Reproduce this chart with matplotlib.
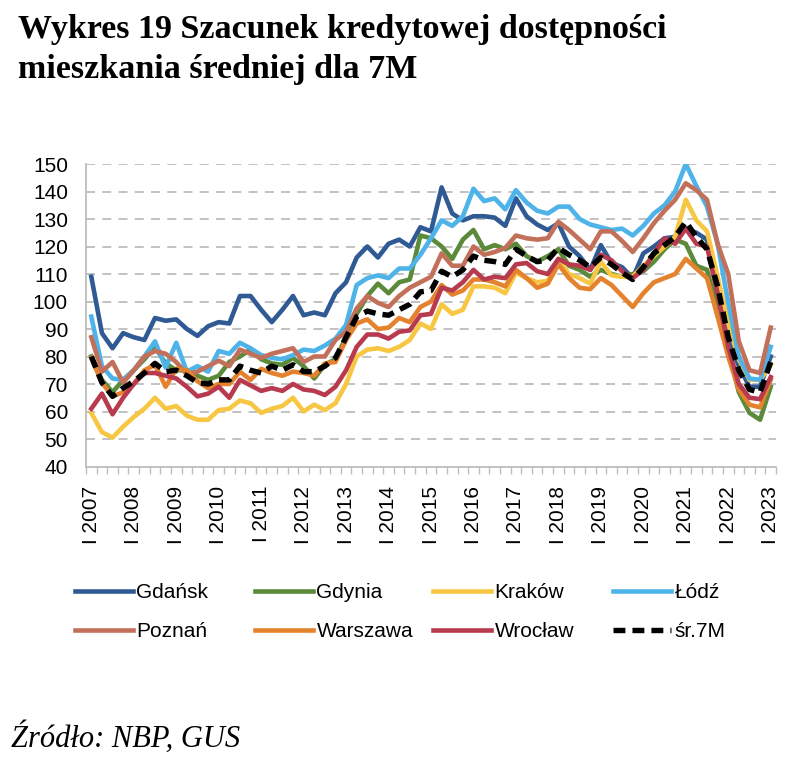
import numpy as np
import matplotlib
matplotlib.use("Agg")
import matplotlib.pyplot as plt

# quarterly data, I 2007 .. I 2023
years = list(range(2007, 2024))
n_q = 65

gdansk = [109, 88.5, 83, 88.5, 87, 86, 94, 93, 93.5, 90, 87.5, 91, 92.5, 92, 102, 102,
          97, 92.5, 97, 102, 95, 96, 95, 103, 107, 116, 120, 116, 121, 122.5, 120, 127,
          125.5, 141.5, 132, 129.5, 131, 131, 130.5, 127.5, 137.5, 131, 128, 126, 128.5, 120,
          116.5, 111.5, 120.5, 114, 112.5, 108.5, 117.5, 120, 123, 123.5, 126.5, 125, 122.5,
          102, 87, 76.5, 69, 69, 80]
gdynia = [80, 71.5, 67, 71.5, 75, 79, 83.5, 77.5, 75, 75, 73, 71.5, 73, 78, 80, 82.5,
          79, 77.5, 77, 79.5, 76.5, 72, 77, 79, 87, 95.5, 102, 106.5, 103, 107, 108, 124,
          123, 120, 115.5, 122.5, 126, 119, 120.5, 119, 121, 116.5, 114.5, 116.5, 119, 113,
          111.5, 109, 111.5, 110, 109, 110, 111, 114.5, 119, 122.5, 121, 113, 111.5,
          97, 82.5, 67, 59.5, 57, 69]
krakow = [59.5, 52.5, 50.5, 54.5, 58, 61, 65, 61, 62, 58.5, 57, 57, 60.5, 61, 64, 63,
          59.5, 61, 62, 65, 60, 62.5, 60.5, 63, 70, 80, 82.5, 83, 82, 83.5, 86, 92,
          90, 99, 95.5, 97, 105.5, 105.5, 105, 103, 110.5, 108.5, 107, 107.5, 115.5, 110,
          108.5, 106.5, 114.5, 109.5, 109, 109, 113, 116.5, 120, 123.5, 137, 129.5, 125.5,
          109, 92, 79, 71.5, 71.5, 77]
lodz = [94.5, 76.5, 72, 71.5, 75, 80, 85.5, 76, 85, 74.5, 76.5, 74.5, 82, 81, 85, 83,
        80.5, 79.5, 79, 80.5, 82.5, 82, 84, 86.5, 91.5, 106, 108.5, 109.5, 108.5, 112, 112, 117,
        123, 129.5, 127.5, 131, 141, 136.5, 137.5, 133.5, 140.5, 136, 133, 132, 134.5, 134.5,
        130, 128, 127, 126, 126.5, 124, 127.5, 132, 135, 140, 150, 142, 134.5,
        121, 99.5, 80, 72, 71.5, 83.5]
poznan = [87, 74.5, 78, 70.5, 75, 80, 82, 81, 78, 73.5, 74.5, 76.5, 78.5, 76.5, 82.5, 81,
          79.5, 81, 82, 83, 78, 80, 80, 86, 89, 97.5, 102, 99.5, 98, 102, 105, 107,
          109, 117.5, 113, 113, 120, 117, 118, 119.5, 124, 123, 122.5, 123, 129, 126,
          122.5, 119, 125.5, 125.5, 122, 118, 123, 128.5, 133, 137, 143, 140.5, 137,
          121, 110, 85.5, 75, 74, 90.5]
warszawa = [79.5, 70.5, 65.5, 67, 70, 75, 77, 69, 75.5, 75, 71, 68.5, 70, 70, 74.5, 71.5,
            75.5, 74, 73, 74.5, 74, 73, 77.5, 78, 86, 92, 93.5, 90, 90.5, 94, 92.5, 98,
            100, 106, 102.5, 104, 108, 108, 107, 105.5, 111.5, 108.5, 105, 106.5, 113.5, 108.5,
            105, 104.5, 108.5, 106, 102, 98, 103, 107, 108.5, 110, 115.5, 112, 108.5,
            94.5, 80, 68, 62.5, 61.5, 71.5]
wroclaw = [61, 66.5, 59, 65, 70, 74, 74, 73, 72, 69, 65.5, 66.5, 69, 65, 71.5, 69.5,
           67.5, 68.5, 67.5, 70, 68, 67.5, 66, 69, 75, 83.5, 88, 88, 86.5, 89, 89.5, 95,
           95.5, 105, 104, 107, 111.5, 108, 109, 108.5, 113.5, 114, 111, 110, 115.5, 113.5,
           113, 111.5, 117, 115, 111, 108.5, 111.5, 117.5, 123, 121, 126.5, 121, 120,
           103, 83.5, 70, 65, 64.5, 72.5]
avg7m = [80, 70.5, 65.5, 68.5, 71, 74, 77.5, 74.5, 75, 73, 70.5, 70, 71.5, 71.5, 76.5, 75,
         74, 76.5, 75, 77, 74.5, 74.5, 76.5, 79.5, 87, 94.5, 96.5, 95.5, 95, 97, 99, 103.5,
         104, 111, 109, 111.5, 116.5, 115, 114.5, 113.5, 119, 116.5, 114.5, 115, 119.5, 117,
         115, 112.5, 116, 113.5, 110.5, 108, 112.5, 117.5, 120.5, 123.5, 129, 123.5, 119,
         105.5, 87, 75, 68, 67, 78]

names = ["Gdańsk", "Gdynia", "Kraków", "Łódź", "Poznań", "Warszawa", "Wrocław"]
series = [gdansk, gdynia, krakow, lodz, poznan, warszawa, wroclaw]
colors = ["#2F5A94", "#5A8A3A", "#F7C744", "#4DB3E8", "#C2705A", "#E5822E", "#B83A4E"]

fig = plt.figure(figsize=(8, 7.65), dpi=100)
ax = fig.add_axes([86 / 800, 1 - 466.5 / 765, 690 / 800, 302.5 / 765])

x = np.arange(n_q)
handles = []
for name, vals, c in zip(names, series, colors):
    h, = ax.plot(x, vals, color=c, lw=3.3, solid_joinstyle="round", label=name)
    handles.append(h)
h, = ax.plot(x, avg7m, color="black", lw=3.9, ls=(0, (2.2, 1.3)), label="śr.7M")
handles.append(h)

ax.set_xlim(-0.5, n_q - 0.5)
ax.set_ylim(40, 150)
ax.set_yticks(range(40, 151, 10))
for v in range(50, 151, 10):
    ax.axhline(v, color="#BDBDBD", lw=1.3, ls=(0, (5, 4)), zorder=0)

ax.set_xticks(np.arange(-0.5, n_q, 1))
ax.set_xticklabels([])
ax.set_xticks(np.arange(0, n_q, 4), minor=True)
ax.set_xticklabels([f"I {y}" for y in years], minor=True, rotation=90,
                   fontsize=15, family="Liberation Sans")
ax.tick_params(axis="x", which="major", length=5, color="#BDBDBD", width=1)
ax.tick_params(axis="x", which="minor", length=0, pad=14)
ax.tick_params(axis="y", length=0, pad=13, labelsize=15)
for lab in ax.get_yticklabels():
    lab.set_family("Liberation Sans")

for s in ["top", "right"]:
    ax.spines[s].set_visible(False)
for s in ["left", "bottom"]:
    ax.spines[s].set_color("#BDBDBD")
    ax.spines[s].set_linewidth(1.3)

# legend: 4 columns placed separately, 2 rows each
col_x = [75, 255, 433, 613]
for i, cx in enumerate(col_x):
    hs = [handles[i], handles[i + 4]]
    fig.legend(hs, [hh.get_label() for hh in hs], loc="upper left",
               bbox_to_anchor=(cx / 800, 1 - 583 / 765), frameon=False,
               prop={"family": "Liberation Sans", "size": 15},
               handlelength=2.8, handletextpad=0.15, labelspacing=0.95,
               borderaxespad=0, borderpad=0)

fig.text(18 / 800, 1 - 38 / 765, "Wykres 19 Szacunek kredytowej dostępności",
         fontsize=24.5, fontweight="bold", family="Liberation Serif", va="baseline")
fig.text(18 / 800, 1 - 78 / 765, "mieszkania średniej dla 7M",
         fontsize=24.5, fontweight="bold", family="Liberation Serif", va="baseline")
fig.text(11 / 800, 1 - 747 / 765, "Źródło: NBP, GUS", fontsize=22, style="italic",
         family="Liberation Serif", va="baseline")

fig.savefig("out.png", dpi=100)
